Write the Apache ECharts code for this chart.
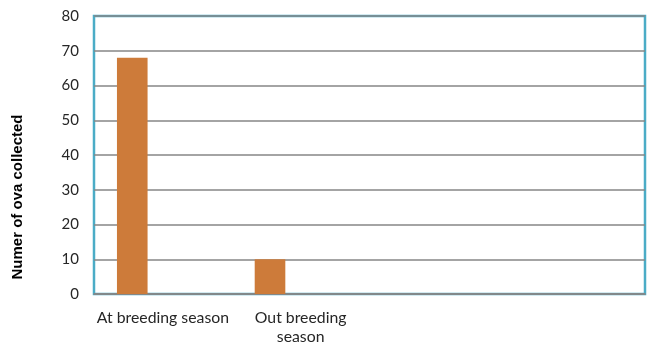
<!DOCTYPE html>
<html>
<head>
<meta charset="utf-8">
<script src="https://cdn.jsdelivr.net/npm/echarts@6/dist/echarts.min.js"></script>
<style>html,body{margin:0;padding:0;background:#fff;}#c{width:648px;height:345px;}</style>
</head>
<body>
<div id="c"></div>
<script>
var categories = ["At breeding season", "Out breeding\nseason", "", ""];
var ovaCollected = [68, 10, null, null];
var emptySeriesA = [null, null, null, null];
var emptySeriesB = [null, null, null, null];
var yTicks = {min: 0, max: 80, interval: 10};
var yTitle = "Numer of ova collected";

var chart = echarts.init(document.getElementById('c'), null, {renderer: 'canvas'});
var labelFont = {fontFamily: 'Lato', fontSize: 15.8, color: '#262626'};
chart.setOption({
  animation: false,
  grid: {left: 94, right: 3, top: 16, bottom: 51, outerBoundsMode: 'none', containLabel: false, show: true, borderColor: '#4BACC6', borderWidth: 2.5, backgroundColor: 'transparent'},
  xAxis: {
    type: 'category', data: categories,
    axisLine: {show: true, lineStyle: {color: '#868686', width: 1.5}},
    axisTick: {show: false},
    axisLabel: Object.assign({interval: 0, margin: 14, lineHeight: 19}, labelFont),
    splitLine: {show: false}
  },
  yAxis: {
    type: 'value', min: yTicks.min, max: yTicks.max, interval: yTicks.interval,
    axisLine: {show: false}, axisTick: {show: false},
    axisLabel: Object.assign({margin: 15}, labelFont, {fontSize: 15}),
    splitLine: {show: true, lineStyle: {color: '#868686', width: 1.5}}
  },
  graphic: [{
    type: 'text', x: 18, y: 197, rotation: Math.PI / 2,
    style: {text: yTitle, fontFamily: 'Liberation Sans', fontWeight: 'bold', fontSize: 15, fill: '#000', textAlign: 'center', textVerticalAlign: 'middle'}
  }],
  series: [
    {type: 'bar', data: ovaCollected, barGap: '0%', barCategoryGap: '33.33%', itemStyle: {color: '#CD7B3A'}},
    {type: 'bar', data: emptySeriesA, barGap: '0%', barCategoryGap: '33.33%'},
    {type: 'bar', data: emptySeriesB, barGap: '0%', barCategoryGap: '33.33%'}
  ]
});
</script>
</body>
</html>
